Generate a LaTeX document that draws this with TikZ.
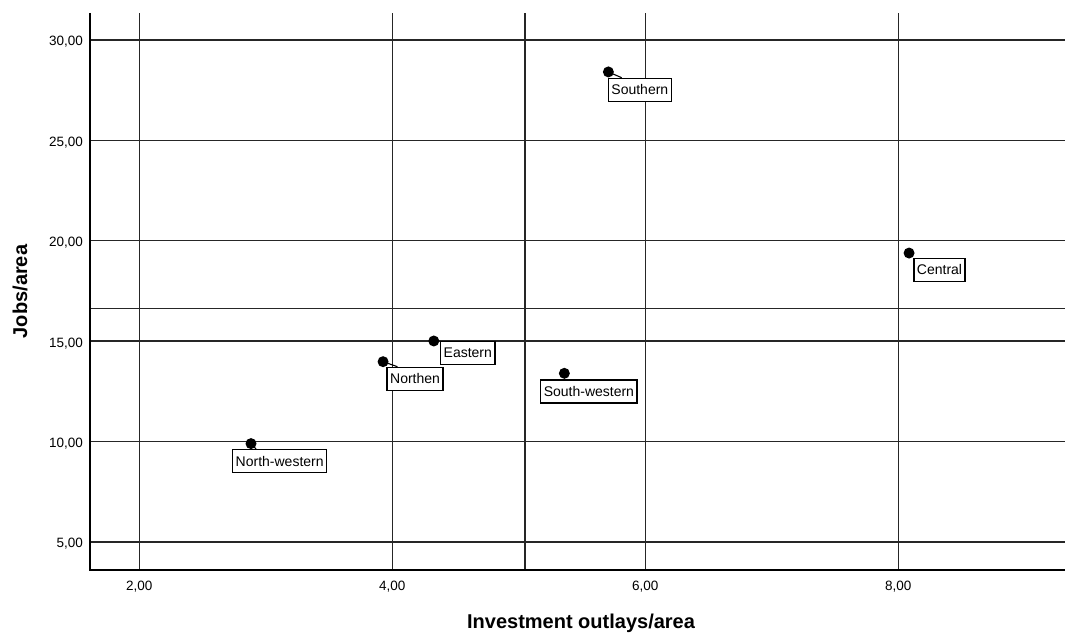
\documentclass[tikz,border=0pt]{standalone}
\usepackage{fontspec}
\setmainfont{Liberation Sans}
\usetikzlibrary{positioning,calc}
\tikzset{
  gridline/.style={line width=1.4pt,black!85},
  axisline/.style={line width=2pt,black},
  ticklbl/.style={font=\fontsize{13.5}{15}\selectfont,inner sep=1pt},
  axistitle/.style={font=\fontsize{20}{22}\selectfont\bfseries},
  dot/.style={circle,fill=black,inner sep=0pt,minimum size=11pt},
  lbl/.style={draw,line width=1.4pt,fill=white,anchor=north west,inner xsep=3pt,
    inner ysep=0pt,minimum height=23pt,font=\fontsize{14}{16}\selectfont},
  leader/.style={line width=1.1pt}
}
\begin{document}
\begin{tikzpicture}[x=126.5pt,y=20.08pt]
                % fix the picture size
                \useasboundingbox (0.8988,0.2689) rectangle (9.3178,31.992);
                % draw horizontal grid lines
                \foreach \y in {5,10,15,20,25,30,16.64}
                \draw[gridline] (1.61,\y) -- (9.3178,\y);
                % draw vertical grid lines
                \foreach \x in {2,4,6,8,5.05}
                \draw[gridline] (\x,3.606) -- (\x,31.345);
                % draw axes
                \draw[axisline] (1.61,31.345) -- (1.61,3.606) -- (9.3178,3.606);
                % draw tick labels
                \foreach \y in {5,10,15,20,25,30}
                \node[ticklbl,anchor=east] at (1.563,\y-0.1) {\y,00};
                \foreach \x in {2,4,6,8}
                \node[ticklbl] at (\x,2.76) {\x,00};
                % draw axis titles
                \node[axistitle] (xtitle) at (5.492,0.966) {Investment outlays/area};
                \node[axistitle,rotate=90] (ytitle) at (1.057,17.475) {Jobs/area};
                % draw data points
                \node[dot] (pS) at (5.708,28.41) {};
                \node[dot] (pC) at (8.085,19.39) {};
                \node[dot] (pSW) at (5.360,13.40) {};
                \node[dot] (pE) at (4.328,15.01) {};
                \node[dot] (pN) at (3.927,13.98) {};
                \node[dot] (pNW) at (2.883,9.90) {};
                % draw point labels
                \node[lbl] (lS) at (5.703,28.12) {Southern};
                \node[lbl] (lC) at (8.118,19.158) {Central};
                \node[lbl] (lSW) at (5.168,13.103) {South-western};
                \node[lbl] (lE) at (4.377,15.010) {Eastern};
                \node[lbl] (lN) at (3.954,13.730) {Northen};
                \node[lbl] (lNW) at (2.733,9.631) {North-western};
                % draw leaders
                \draw[leader] (pS.center) -- ([xshift=14pt]lS.north west);
                \draw[leader] (pN.center) -- ([xshift=11pt]lN.north west);
                \draw[leader] (pNW.center) -- ([xshift=24pt]lNW.north west);
                \end{tikzpicture}
\end{document}
